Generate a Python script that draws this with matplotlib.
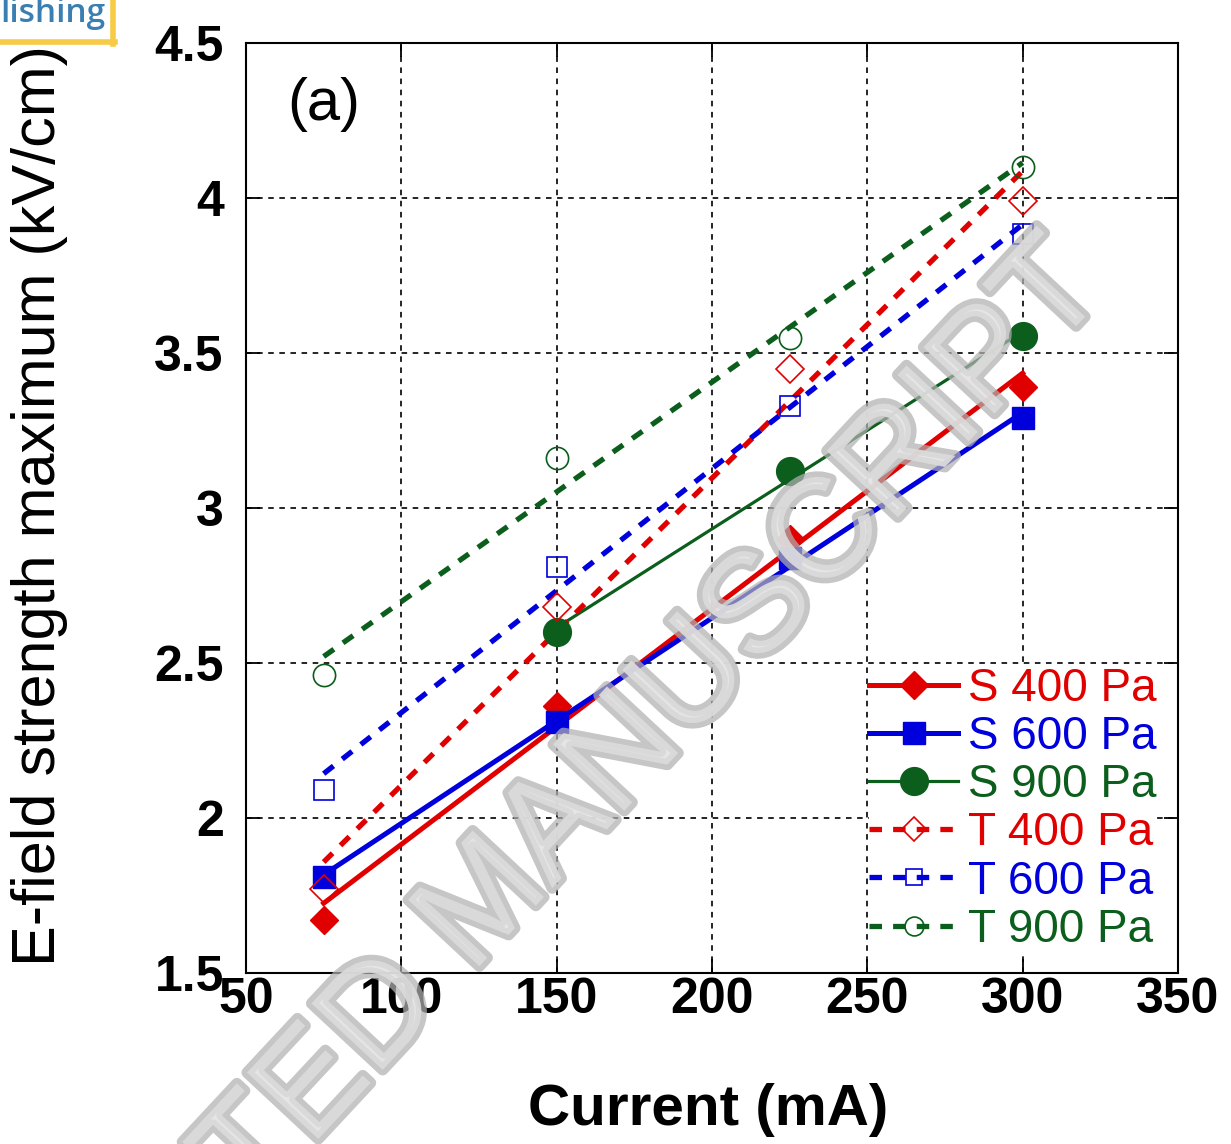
import numpy as np
import matplotlib
matplotlib.use('Agg')
import matplotlib.pyplot as plt
from matplotlib.lines import Line2D
import matplotlib.patheffects as pe

# discharge current (mA) and peak field (kV/cm) for each run
current = [75, 150, 225, 300]
current_s900 = [150, 225, 300]
s400 = [1.67, 2.36, 2.90, 3.39]
s600 = [1.81, 2.31, 2.84, 3.29]
s900 = [2.60, 3.12, 3.555]
t400 = [1.77, 2.68, 3.45, 3.99]
t600 = [2.09, 2.81, 3.33, 3.885]
t900 = [2.46, 3.16, 3.55, 4.10]

xticks = [50, 100, 150, 200, 250, 300, 350]
yticks = [1.5, 2, 2.5, 3, 3.5, 4, 4.5]
ytick_labels = ['1.5', '2', '2.5', '3', '3.5', '4', '4.5']
labels = ['S 400 Pa', 'S 600 Pa', 'S 900 Pa', 'T 400 Pa', 'T 600 Pa', 'T 900 Pa']

plt.rcParams['font.family'] = ['Liberation Sans', 'DejaVu Sans']
plt.rcParams['lines.scale_dashes'] = False

W, H = 1231, 1144
fig = plt.figure(figsize=(W / 100, H / 100), dpi=100)

def fx(px):
    return px / W

def fy(py):
    return 1 - py / H

ax = fig.add_axes([fx(246), fy(973), fx(1178) - fx(246), fy(43) - fy(973)])

red = '#e00000'
blue = '#0000dc'
green = '#0b5e1c'

# x, y, colour, marker, marker size, solid?, line width
series = [
    (current, s400, red, 'D', 14.5, True, 3.6),
    (current, s600, blue, 's', 16, True, 3.6),
    (current_s900, s900, green, 'o', 20, True, 2.3),
    (current, t400, red, 'D', 14, False, 3.8),
    (current, t600, blue, 's', 14, False, 3.8),
    (current, t900, green, 'o', 16, False, 3.8),
]

handles = []
for (x, y, c, m, ms, solid, lw), lab in zip(series, labels):
    x = np.array(x, dtype=float)
    y = np.array(y, dtype=float)
    # straight-line fit through the measured points
    k, b = np.polyfit(x, y, 1)
    xs = np.array([x.min(), x.max()])
    ls = '-' if solid else (0, (9, 8))
    ax.plot(xs, k * xs + b, color=c, lw=lw, linestyle=ls, zorder=3)
    if solid:
        ax.plot(x, y, linestyle='none', marker=m, ms=ms, color=c, mec=c, zorder=4)
        h = Line2D([], [], color=c, lw=lw, marker=m, ms=ms, mec=c)
    else:
        ax.plot(x, y, linestyle='none', marker=m, ms=ms, mfc='none', mec=c, mew=1.2, zorder=4)
        h = Line2D([], [], color=c, lw=lw, linestyle=ls, marker=m, ms=ms * 0.85,
                   mfc='none', mec=c, mew=1.2)
    handles.append(h)

ax.set_xlim(50, 350)
ax.set_ylim(1.5, 4.5)
ax.set_xticks(xticks)
ax.set_yticks(yticks)
ax.set_yticklabels(ytick_labels)
ax.grid(True, color='k', linestyle=(0, (4, 4)), linewidth=1.2)
ax.set_axisbelow(True)
ax.tick_params(direction='in', length=10, width=1.3, top=True, right=True, labelsize=36)
ax.tick_params(axis='x', pad=3)
ax.tick_params(axis='y', pad=16)
for lbl in ax.get_xticklabels() + ax.get_yticklabels():
    lbl.set_fontweight('bold')
for s in ax.spines.values():
    s.set_linewidth(1.5)

fig.text(fx(287), fy(104), '(a)', fontsize=43, ha='left', va='center')

fig.text(fx(40), fy(506), 'E-field strength maximum (kV/cm)', rotation=90,
         fontsize=44, ha='center', va='center')
fig.text(fx(708), fy(1110), 'Current (mA)', fontsize=42, fontweight='bold',
         ha='center', va='center')

leg = ax.legend(handles, labels, loc='upper left', bbox_to_anchor=(fx(869), fy(667)),
                bbox_transform=fig.transFigure, fontsize=33, handlelength=1.95,
                handletextpad=0.2, labelspacing=0.09, borderpad=0.0, borderaxespad=0,
                frameon=True, fancybox=False, edgecolor='none', facecolor='white',
                framealpha=1)
for txt, (_, _, c, *_rest) in zip(leg.get_texts(), series):
    txt.set_color(c)

# journal watermark across the figure
fig.text(fx(1110), fy(290), 'ACCEPTED MANUSCRIPT', rotation=47, rotation_mode='anchor',
         ha='right', va='baseline', fontsize=102, color='#e4e4e4', alpha=0.72,
         path_effects=[pe.Stroke(linewidth=8, foreground='#b0b0b0'), pe.Normal()],
         zorder=10)

# corner of the publisher banner
fig.text(fx(0), fy(13), 'lishing', fontsize=24, fontweight='semibold',
         family=['Open Sans', 'DejaVu Sans'], color='#3a7fb2', ha='left', va='center')
fig.add_artist(Line2D([fx(113), fx(113)], [fy(0), fy(44)], color='#f7cb45', lw=4))
fig.add_artist(Line2D([fx(0), fx(115)], [fy(42), fy(42)], color='#f7cb45', lw=4))

fig.savefig('out.png', dpi=100)
